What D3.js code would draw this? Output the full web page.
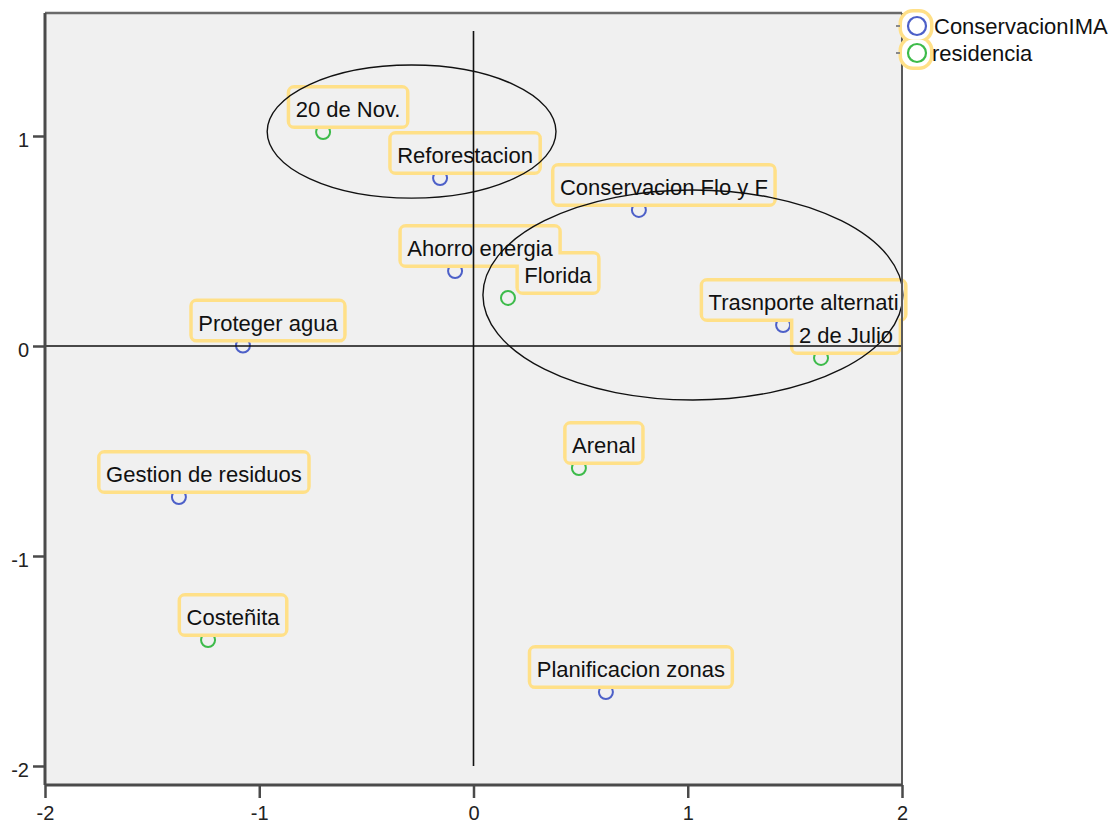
<!DOCTYPE html>
<html>
<head>
<meta charset="utf-8">
<script src="https://cdn.jsdelivr.net/npm/d3@7"></script>
<style>
  html, body { margin: 0; padding: 0; background: #ffffff; }
  svg { display: block; }
  text { font-family: "Liberation Sans", Arial, sans-serif; }
</style>
</head>
<body>
<svg id="chart" width="1115" height="826"></svg>
<script>
// ---- data ----
const pointLabels = ["20 de Nov.", "Reforestacion", "Conservacion Flo y F", "Ahorro energia", "Florida",
  "Trasnporte alternati", "2 de Julio", "Proteger agua", "Arenal", "Gestion de residuos", "Costeñita", "Planificacion zonas"];
const dim1 = [-0.702, -0.156, 0.772, -0.086, 0.161, 1.445, 1.622, -1.076, 0.492, -1.375, -1.239, 0.618];
const dim2 = [1.019, 0.800, 0.648, 0.357, 0.229, 0.100, -0.057, 0.002, -0.581, -0.719, -1.400, -1.648];
const seriesIndex = [1, 0, 0, 0, 1, 0, 1, 0, 1, 0, 1, 0];
const seriesNames = ["ConservacionIMA", "residencia"];
const xTickValues = [-2, -1, 0, 1, 2];
const yTickValues = [-2, -1, 0, 1];
// annotation ellipses (data units)
const ellipseCx = [-0.289, 1.024];
const ellipseCy = [1.021, 0.243];
const ellipseRx = [0.674, 0.980];
const ellipseRy = [0.317, 0.500];

// ---- layout ----
const seriesColors = ["#4d60c8", "#3dbb4a"];
const boxStroke = "#ffe088";
const plotBg = "#f0f0f0";
const plot = { left: 45, right: 902, top: 13, bottom: 785 };
const labelShift = { "Florida": 50, "Trasnporte alternati": 20.5 }; // px, default 25
const border = 3.5;

const svg = d3.select("#chart");
const x = d3.scaleLinear().domain([-2, 2]).range([plot.left, plot.right]);
const y = d3.scaleLinear().domain([-2.0905, 1.5857]).range([plot.bottom, plot.top]);

svg.append("rect").attr("x", plot.left).attr("y", plot.top)
  .attr("width", plot.right - plot.left).attr("height", plot.bottom - plot.top)
  .attr("fill", plotBg);

const pts = pointLabels.map((l, i) => ({ label: l, x: dim1[i], y: dim2[i], s: seriesIndex[i] }));

// points
svg.append("g").selectAll("circle").data(pts).join("circle")
  .attr("cx", d => x(d.x)).attr("cy", d => y(d.y)).attr("r", 7)
  .attr("fill", "none").attr("stroke", d => seriesColors[d.s]).attr("stroke-width", 2);

// label boxes (outer: top cy-47, bottom cy-3)
const fontSize = 22;
const measure = svg.append("text").attr("font-size", fontSize).attr("visibility", "hidden");
pts.forEach(d => {
  measure.text(d.label);
  d.tw = measure.node().getComputedTextLength();
  const shift = labelShift[d.label] !== undefined ? labelShift[d.label] : 25;
  const cy = y(d.y);
  d.lx = x(d.x) + shift;
  const outerW = d.tw + 18, outerTop = cy - 47, outerBottom = cy - 3;
  d.bx = d.lx - outerW / 2 + border;
  d.w = outerW - 2 * border;
  d.by = outerTop + border;
  d.h = outerBottom - outerTop - 2 * border;
  d.base = cy - 15;
});
measure.remove();

const gBox = svg.append("g");
gBox.selectAll("rect.s").data(pts).join("rect").attr("class", "s")
  .attr("x", d => d.bx).attr("y", d => d.by).attr("width", d => d.w).attr("height", d => d.h)
  .attr("rx", 4).attr("fill", "none").attr("stroke", boxStroke).attr("stroke-width", border * 2)
  .attr("stroke-linejoin", "round");
gBox.selectAll("rect.f").data(pts).join("rect").attr("class", "f")
  .attr("x", d => d.bx).attr("y", d => d.by).attr("width", d => d.w).attr("height", d => d.h)
  .attr("rx", 3).attr("fill", plotBg);
svg.append("g").selectAll("text").data(pts).join("text")
  .attr("x", d => d.lx).attr("y", d => d.base).attr("text-anchor", "middle")
  .attr("font-size", fontSize).attr("fill", "#111").text(d => d.label);

// reference lines
svg.append("line").attr("x1", x(0)).attr("x2", x(0)).attr("y1", y(1.5)).attr("y2", y(-2))
  .attr("stroke", "#111").attr("stroke-width", 1.6);
svg.append("line").attr("x1", x(-2)).attr("x2", x(2)).attr("y1", y(0)).attr("y2", y(0))
  .attr("stroke", "#111").attr("stroke-width", 1.6);

// ellipses
svg.append("g").selectAll("ellipse").data(ellipseCx).join("ellipse")
  .attr("cx", (d, i) => x(d)).attr("cy", (d, i) => y(ellipseCy[i]))
  .attr("rx", (d, i) => x(d + ellipseRx[i]) - x(d))
  .attr("ry", (d, i) => y(ellipseCy[i]) - y(ellipseCy[i] + ellipseRy[i]))
  .attr("fill", "none").attr("stroke", "#111").attr("stroke-width", 1.4);

// frame
svg.append("line").attr("x1", plot.left).attr("x2", plot.right).attr("y1", plot.top).attr("y2", plot.top)
  .attr("stroke", "#6a6a6a").attr("stroke-width", 2.5);
svg.append("line").attr("x1", plot.right).attr("x2", plot.right).attr("y1", plot.top).attr("y2", plot.bottom)
  .attr("stroke", "#5a5a5a").attr("stroke-width", 2);
svg.append("line").attr("x1", plot.left).attr("x2", plot.left).attr("y1", plot.top).attr("y2", plot.bottom)
  .attr("stroke", "#4a4a4a").attr("stroke-width", 3);
svg.append("line").attr("x1", plot.left).attr("x2", plot.right).attr("y1", plot.bottom).attr("y2", plot.bottom)
  .attr("stroke", "#4a4a4a").attr("stroke-width", 3);

// axes
const fmt = d => String(d);
const xAxis = svg.append("g").attr("transform", `translate(0,${plot.bottom})`)
  .call(d3.axisBottom(x).tickValues(xTickValues).tickSize(13).tickPadding(8).tickFormat(fmt));
const yAxis = svg.append("g").attr("transform", `translate(${plot.left},0)`)
  .call(d3.axisLeft(y).tickValues(yTickValues).tickSize(12).tickPadding(4).tickFormat(fmt));
[xAxis, yAxis].forEach(a => {
  a.select(".domain").remove();
  a.selectAll(".tick line").attr("stroke", "#4a4a4a").attr("stroke-width", 2.5);
  a.selectAll(".tick text").attr("font-size", 20).attr("fill", "#222")
    .attr("font-family", "'Liberation Sans', Arial, sans-serif");
});
yAxis.selectAll(".tick text").attr("dy", "0.54em");

// legend
const legY = [26, 53];
const lg = svg.append("g");
lg.selectAll("rect.s").data(seriesNames).join("rect").attr("class", "s")
  .attr("x", 902).attr("y", (d, i) => legY[i] - 13.5).attr("width", 28).attr("height", 27)
  .attr("rx", 11).attr("fill", "none").attr("stroke", boxStroke).attr("stroke-width", border * 2);
lg.selectAll("rect.f").data(seriesNames).join("rect").attr("class", "f")
  .attr("x", 902).attr("y", (d, i) => legY[i] - 13.5).attr("width", 28).attr("height", 27)
  .attr("rx", 11).attr("fill", "#ffffff");
lg.selectAll("line").data(seriesNames).join("line")
  .attr("x1", 896).attr("x2", 900).attr("y1", (d, i) => legY[i]).attr("y2", (d, i) => legY[i])
  .attr("stroke", "#888").attr("stroke-width", 2);
lg.selectAll("circle").data(seriesNames).join("circle")
  .attr("cx", 917).attr("cy", (d, i) => legY[i]).attr("r", 9)
  .attr("fill", "none").attr("stroke", (d, i) => seriesColors[i]).attr("stroke-width", 2.2);
lg.selectAll("text").data(seriesNames).join("text")
  .attr("x", (d, i) => i === 0 ? 934 : 932).attr("y", (d, i) => legY[i] + 8)
  .attr("font-size", fontSize).attr("fill", "#111").text(d => d);
</script>
</body>
</html>
